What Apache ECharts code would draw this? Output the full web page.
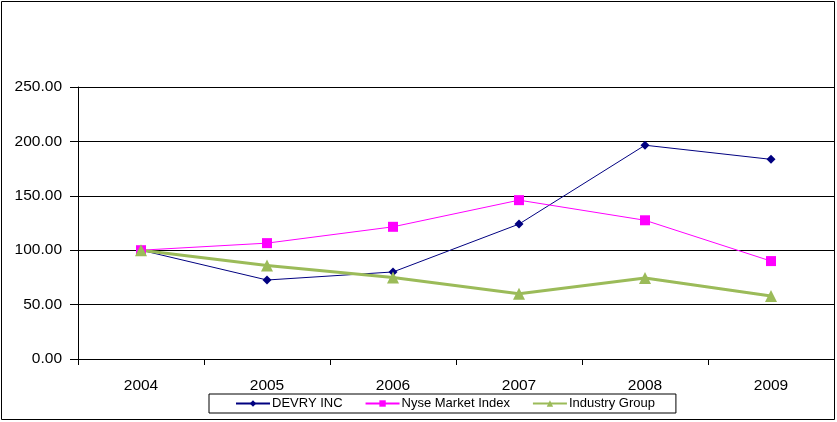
<!DOCTYPE html>
<html><head><meta charset="utf-8">
<script src="https://cdn.jsdelivr.net/npm/echarts@6/dist/echarts.min.js"></script>
<style>html,body{margin:0;padding:0;background:#fff}#c{width:837px;height:422px}</style>
</head><body><div id="c"></div>
<script>
var categories = ['2004','2005','2006','2007','2008','2009'];
var devry = [100.00, 72.6, 80.0, 124.0, 196.5, 183.5];
var nyse = [100.00, 106.5, 121.5, 146.0, 127.5, 90.0];
var industry = [100.00, 86.0, 75.0, 60.0, 74.5, 58.0];

var chart = echarts.init(document.getElementById('c'), null, {renderer:'canvas'});
var font = 'Liberation Sans, Arial, sans-serif';
chart.setOption({
  animation:false,
  graphic:[{type:'rect', shape:{x:1.5,y:1.5,width:833,height:418}, style:{fill:'none', stroke:'#000', lineWidth:1}, z:-1}],
  grid:{left:78, right:3, top:87, bottom:63, containLabel:false},
  legend:{
    top:394, left:209, itemWidth:34, itemHeight:8, itemGap:22,
    borderColor:'#000', borderWidth:1, padding:[3,21,3,26], borderRadius:0,
    textStyle:{fontFamily:font, fontSize:13, color:'#000', padding:[0,0,0,-3]},
    data:['DEVRY INC','Nyse Market Index','Industry Group']
  },
  xAxis:{type:'category', data:categories, boundaryGap:true,
    axisLine:{lineStyle:{color:'#000', width:1}},
    axisTick:{show:true, length:6, lineStyle:{color:'#000'}},
    axisLabel:{fontFamily:font, fontSize:15.5, color:'#000', margin:19},
    splitLine:{show:false}},
  yAxis:{type:'value', min:0, max:250, interval:50,
    axisLine:{show:true, lineStyle:{color:'#000'}},
    axisTick:{show:true, length:8, lineStyle:{color:'#000'}},
    axisLabel:{fontFamily:font, fontSize:15.5, color:'#000', margin:16, formatter:function(v){return v.toFixed(2);}},
    splitLine:{show:true, lineStyle:{color:'#000', width:1}}},
  series:[
    {name:'DEVRY INC', type:'line', data:devry, symbol:'diamond', symbolSize:9,
      lineStyle:{color:'#000080', width:1}, itemStyle:{color:'#000080'}},
    {name:'Nyse Market Index', type:'line', data:nyse, symbol:'rect', symbolSize:10,
      lineStyle:{color:'#FF00FF', width:1}, itemStyle:{color:'#FF00FF'}},
    {name:'Industry Group', type:'line', data:industry, symbol:'triangle', symbolSize:12,
      lineStyle:{color:'#9BBB59', width:3}, itemStyle:{color:'#9BBB59'}}
  ]
});
</script></body></html>
